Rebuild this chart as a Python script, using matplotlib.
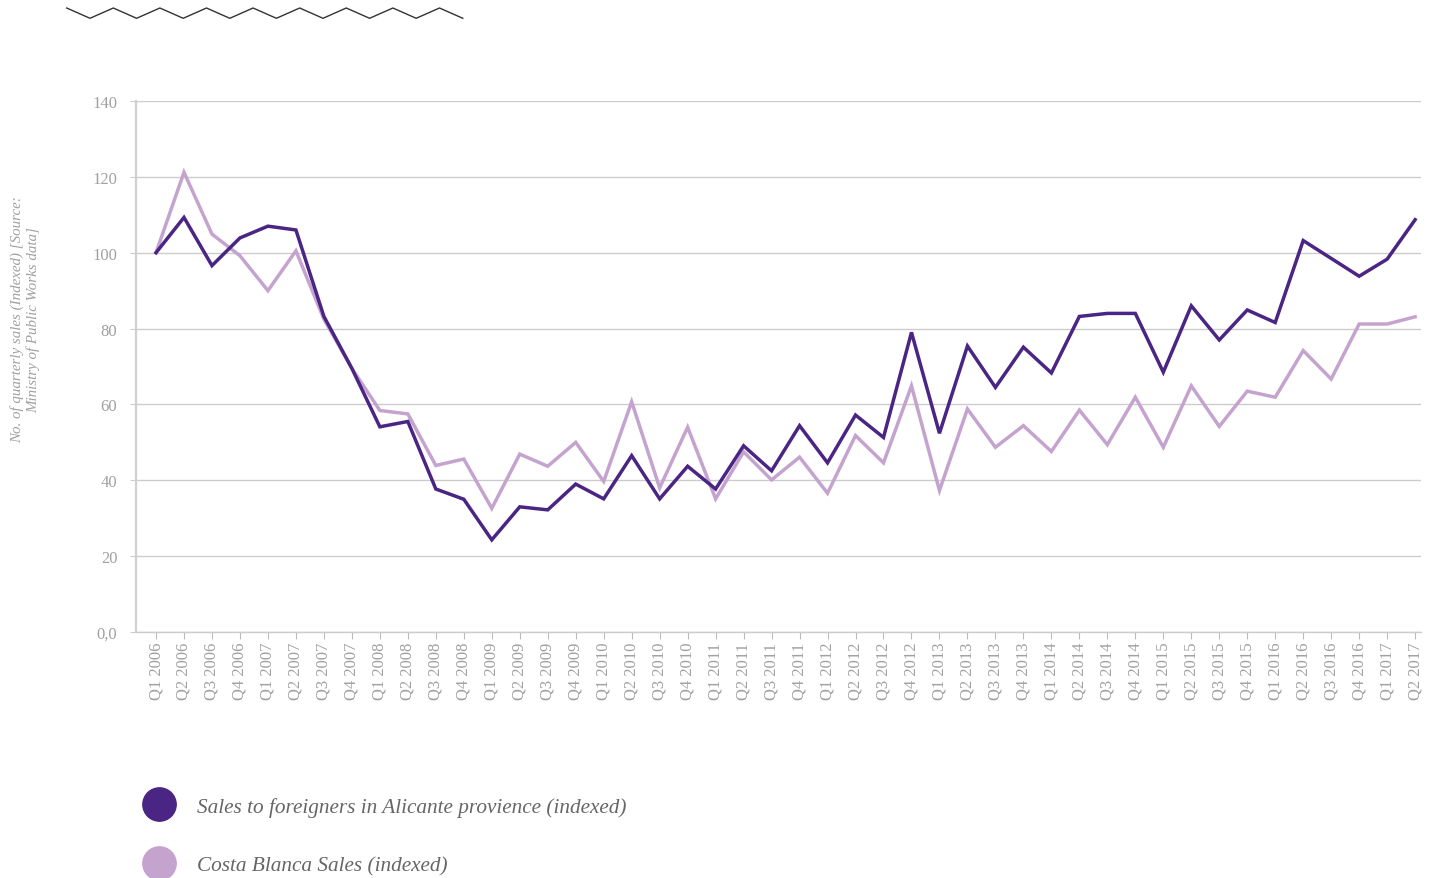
from matplotlib import pyplot as plt
from matplotlib.lines import Line2D
import numpy as np

# %% Data

quarters = ['Q1 2006', 'Q2 2006', 'Q3 2006', 'Q4 2006',
            'Q1 2007', 'Q2 2007', 'Q3 2007', 'Q4 2007',
            'Q1 2008', 'Q2 2008', 'Q3 2008', 'Q4 2008',
            'Q1 2009', 'Q2 2009', 'Q3 2009', 'Q4 2009',
            'Q1 2010', 'Q2 2010', 'Q3 2010', 'Q4 2010',
            'Q1 2011', 'Q2 2011', 'Q3 2011', 'Q4 2011',
            'Q1 2012', 'Q2 2012', 'Q3 2012', 'Q4 2012',
            'Q1 2013', 'Q2 2013', 'Q3 2013', 'Q4 2013',
            'Q1 2014', 'Q2 2014', 'Q3 2014', 'Q4 2014',
            'Q1 2015', 'Q2 2015', 'Q3 2015', 'Q4 2015',
            'Q1 2016', 'Q2 2016', 'Q3 2016', 'Q4 2016',
            'Q1 2017', 'Q2 2017']

foreigners = [100, 109.3, 96.6, 103.9, 107.0, 106.0, 83.2, 69.5,
              54.1, 55.5, 37.7, 35.0, 24.3, 33.0, 32.2, 39.0,
              35.1, 46.5, 35.1, 43.7, 37.7, 49.1, 42.5, 54.4,
              44.6, 57.2, 51.3, 79.0, 52.4, 75.4, 64.5, 75.1,
              68.3, 83.2, 84.0, 84.0, 68.5, 86.0, 77.0, 84.9,
              81.6, 103.2, 98.5, 93.8, 98.3, 108.7]

costa_blanca = [100, 121.2, 104.9, 99.2, 90.0, 100.5, 82.5, 69.5,
                58.4, 57.5, 43.9, 45.6, 32.6, 46.9, 43.7, 50.0,
                39.7, 60.7, 38.0, 54.0, 35.1, 47.5, 40.1, 46.1,
                36.6, 51.8, 44.6, 64.9, 37.3, 58.8, 48.7, 54.4,
                47.6, 58.5, 49.4, 61.9, 48.7, 64.9, 54.2, 63.5,
                61.9, 74.2, 66.7, 81.2, 81.2, 83.1]

series_names = ['Sales to foreigners in Alicante provience (indexed)',
                'Costa Blanca Sales (indexed)']
yticks = [0, 20, 40, 60, 80, 100, 120, 140]

# %% Style

dark = '#4a2583'
light = '#c5a3cf'
grey_txt = '#a0a0a0'
grid_col = '#cccccc'

plt.rcParams['font.family'] = ['Liberation Serif', 'DejaVu Serif']

fig = plt.figure(figsize=(14.4, 8.79), dpi=100)
ax = fig.add_axes([136/1440, 1-633/879, 1285/1440, 531/879])

x = np.arange(len(quarters))
ax.plot(x, costa_blanca, color=light, lw=2.5, solid_joinstyle='miter')
ax.plot(x, foreigners, color=dark, lw=2.5, solid_joinstyle='miter')

ax.set_ylim(0, 140)
ax.set_xlim(-0.715, len(quarters)-1+0.21)
ax.set_yticks(yticks)
ax.set_yticklabels(['0,0' if v == 0 else str(v) for v in yticks])
ax.set_xticks(x)
ax.set_xticklabels(quarters, rotation=90)

ax.grid(axis='y', color=grid_col, lw=1.0)
ax.set_axisbelow(True)
for s in ['top', 'right']:
    ax.spines[s].set_visible(False)
ax.spines['left'].set_color('#d0d0d0')
ax.spines['left'].set_linewidth(1.6)
ax.spines['bottom'].set_color(grid_col)
ax.spines['bottom'].set_linewidth(1.0)
ax.tick_params(axis='y', length=4, color=grid_col, labelcolor=grey_txt,
               labelsize=12, pad=9.5)
ax.tick_params(axis='x', length=5, color='#bbbbbb', labelcolor=grey_txt,
               labelsize=12, pad=2)

# axis title
fig.text(25/1440, 1-320/879,
         'No. of quarterly sales (Indexed) [Source:\nMinistry of Public Works data]',
         rotation=90, ha='center', va='center', multialignment='center',
         style='italic', fontsize=10.8, color=grey_txt, linespacing=1.2)

# legend
handles = [Line2D([], [], ls='', marker='o', ms=24, color=c, mec=c)
           for c in (dark, light)]
fig.legend(handles, series_names, loc='upper left',
           bbox_to_anchor=(148/1440, 1-798/879), frameon=False,
           prop={'style': 'italic', 'size': 15.3}, labelcolor='#666666',
           handlelength=1.0, handletextpad=1.3, labelspacing=1.8,
           borderpad=0, borderaxespad=0)

# decorative zigzag
zx = 66.7 + 23.3*np.arange(18)
zy = np.where(np.arange(18) % 2 == 0, 9.0, 19.3)
fig.add_artist(Line2D(zx/1440, 1-zy/879, color='#333333', lw=1.0))

plt.savefig('out.png', dpi=100)
